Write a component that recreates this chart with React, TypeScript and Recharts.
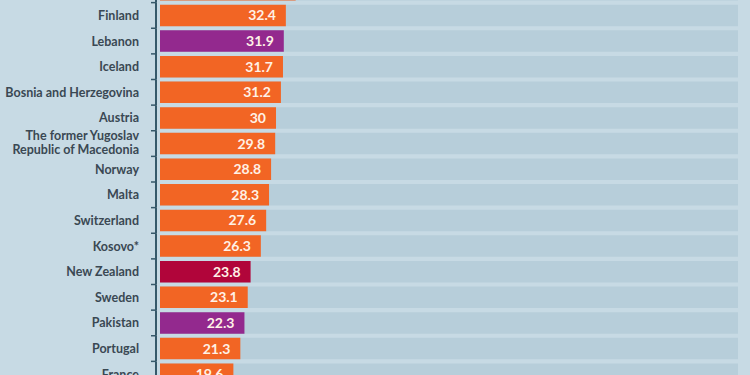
import React from "react";
import { BarChart, Bar, XAxis, YAxis, Cell, LabelList } from "recharts";

const countries = [
  "",
  "Finland",
  "Lebanon",
  "Iceland",
  "Bosnia and Herzegovina",
  "Austria",
  "The former Yugoslav Republic of Macedonia",
  "Norway",
  "Malta",
  "Switzerland",
  "Kosovo*",
  "New Zealand",
  "Sweden",
  "Pakistan",
  "Portugal",
  "France",
];

const values = [34.8, 32.4, 31.9, 31.7, 31.2, 30, 29.8, 28.8, 28.3, 27.6, 26.3, 23.8, 23.1, 22.3, 21.3, 19.6];

const groups = [
  "europe",
  "europe",
  "asia",
  "europe",
  "europe",
  "europe",
  "europe",
  "europe",
  "europe",
  "europe",
  "europe",
  "oceania",
  "europe",
  "asia",
  "europe",
  "europe",
];

const groupColors: Record<string, string> = {
  europe: "#F26524",
  asia: "#93298E",
  oceania: "#B1053A",
};

const data = countries.map((name, i) => ({ name, value: values[i], group: groups[i] }));

const BG = "#C7DAE4";
const TRACK = "#B7CEDA";
const LABEL_COLOR = "#3A4853";
const AXIS_COLOR = "#36596A";
const FONT = "Lato, 'Open Sans', sans-serif";

function splitLabel(name: string): string[] {
  if (name.length <= 24) return [name];
  const words = name.split(" ");
  const half = name.length / 2;
  let first = "";
  let idx = 0;
  while (idx < words.length) {
    const next = first ? first + " " + words[idx] : words[idx];
    if (next.length > half && first) break;
    first = next;
    idx++;
  }
  return [first, words.slice(idx).join(" ")];
}

const CategoryTick = (props: any) => {
  const { x, y, payload } = props;
  const off = payload && payload.offset ? payload.offset : 12.8;
  const lines = splitLabel(String(payload.value));
  const axisX = x - 4;
  return (
    <g>
      <line x1={axisX} x2={axisX} y1={y - off} y2={y + off} stroke={AXIS_COLOR} strokeWidth={2} />
      <line x1={axisX - 5} x2={axisX} y1={y - off} y2={y - off} stroke={AXIS_COLOR} strokeWidth={1.5} />
      {lines.length === 1 ? (
        <text
          x={x - 21}
          y={y}
          dy="0.36em"
          textAnchor="end"
          fill={LABEL_COLOR}
          fontFamily={FONT}
          fontWeight={700}
          fontSize={12.5}
        >
          {lines[0]}
        </text>
      ) : (
        <text
          x={x - 21}
          y={y}
          textAnchor="end"
          fill={LABEL_COLOR}
          fontFamily={FONT}
          fontWeight={700}
          fontSize={12.5}
        >
          <tspan x={x - 21} dy="-0.25em">
            {lines[0]}
          </tspan>
          <tspan x={x - 21} dy="1.1em">
            {lines[1]}
          </tspan>
        </text>
      )}
    </g>
  );
};

const ValueLabel = (props: any) => {
  const { x, y, width, height, value } = props;
  return (
    <text
      x={x + width - 10}
      y={y + height / 2}
      dy="0.36em"
      textAnchor="end"
      fill="#FFF1E6"
      fontFamily={FONT}
      fontWeight={700}
      fontSize={14}
    >
      {value}
    </text>
  );
};

export default function App() {
  return (
    <div
      style={{
        position: "absolute",
        left: 0,
        top: 0,
        width: 750,
        height: 375,
        overflow: "hidden",
        background: BG,
      }}
    >
      <div style={{ position: "absolute", left: 0, top: -22.6 }}>
        <BarChart
          width={750}
          height={410}
          data={data}
          layout="vertical"
          margin={{ top: 0, right: 12, bottom: 0, left: 0 }}
          barSize={21.5}
        >
          <XAxis type="number" domain={[1.7, 142.7]} allowDataOverflow hide ticks={[1.7, 142.7]} />
          <YAxis
            type="category"
            dataKey="name"
            width={160}
            axisLine={false}
            tickLine={false}
            tickSize={0}
            tickMargin={0}
            interval={0}
            tick={<CategoryTick />}
          />
          <Bar dataKey="value" isAnimationActive={false} background={{ fill: TRACK }}>
            {data.map((d, i) => (
              <Cell key={i} fill={groupColors[d.group]} />
            ))}
            <LabelList dataKey="value" content={<ValueLabel />} />
          </Bar>
        </BarChart>
      </div>
    </div>
  );
}
